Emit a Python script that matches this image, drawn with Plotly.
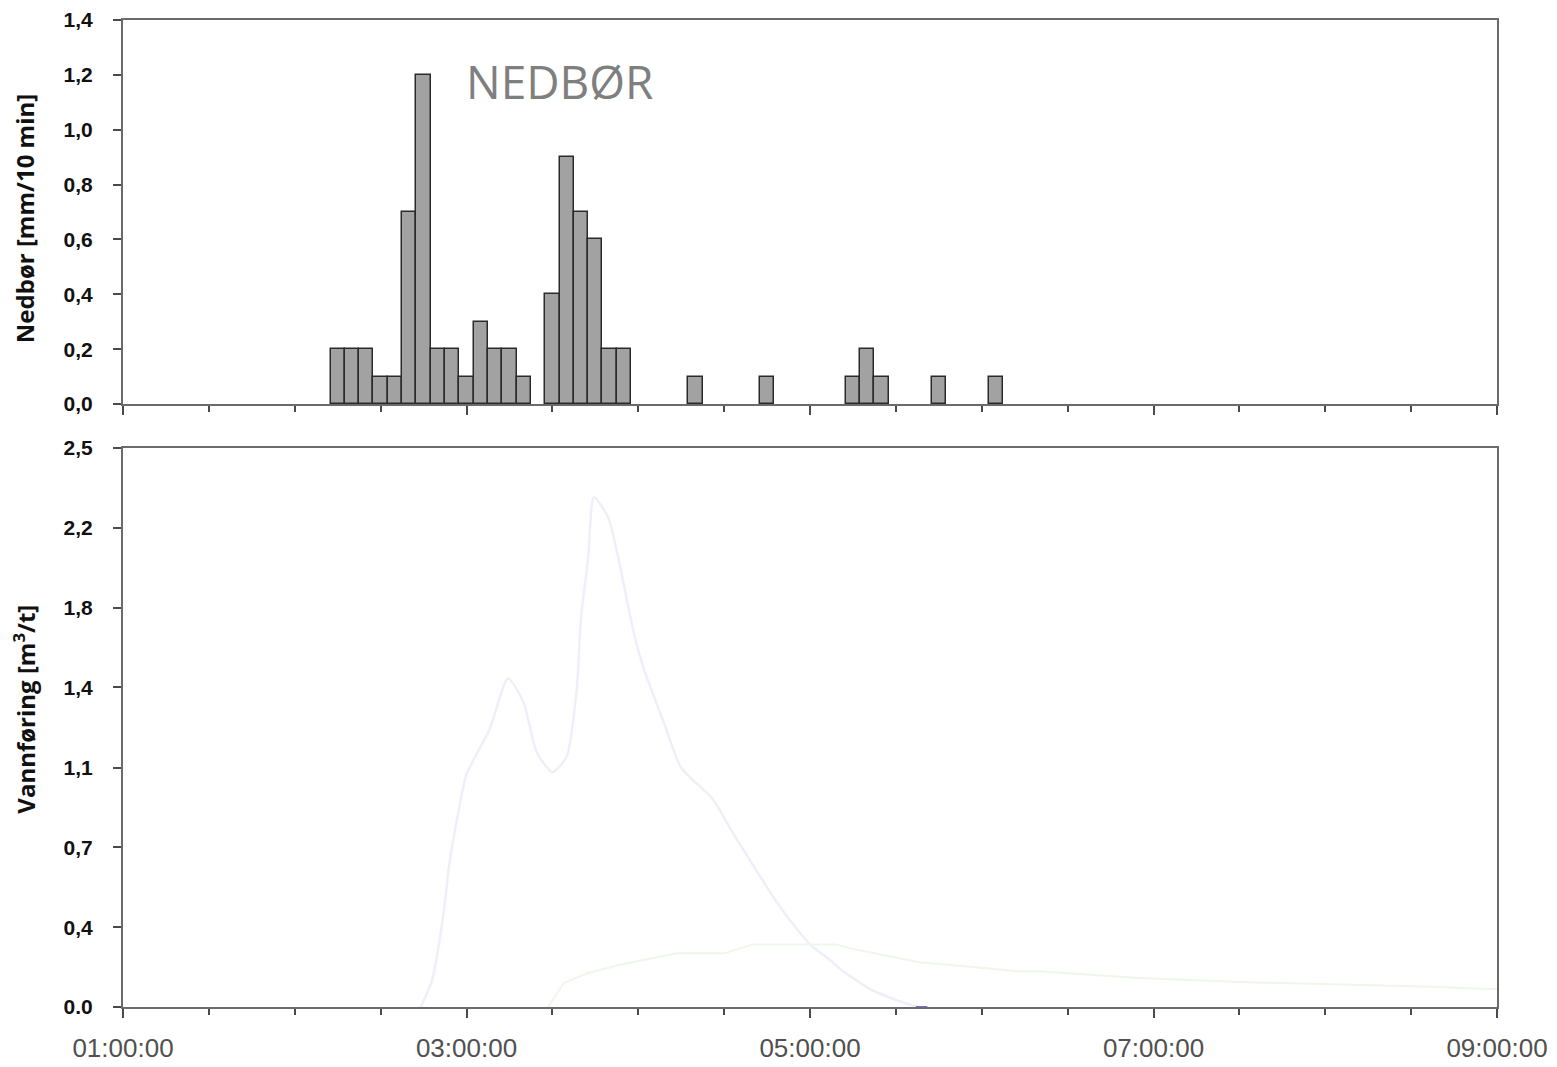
import plotly.graph_objects as go

DAY = "2000-01-01 "

# ---- Precipitation (5-minute bars) ----
rain_times = ["02:15", "02:20", "02:25", "02:30", "02:35", "02:40", "02:45",
              "02:50", "02:55", "03:00", "03:05", "03:10", "03:15", "03:20",
              "03:30", "03:35", "03:40", "03:45", "03:50", "03:55",
              "04:20", "04:45", "05:15", "05:20", "05:25", "05:45", "06:05"]
rain_vals = [0.2, 0.2, 0.2, 0.1, 0.1, 0.7, 1.2,
             0.2, 0.2, 0.1, 0.3, 0.2, 0.2, 0.1,
             0.4, 0.9, 0.7, 0.6, 0.2, 0.2,
             0.1, 0.1, 0.1, 0.2, 0.1, 0.1, 0.1]

# ---- Discharge, hydrograph 1 (faint blue) ----
q1_times = ["02:44:00", "02:48:00", "02:52:00", "02:54:00", "02:57:00", "03:00:00",
            "03:08:00", "03:14:30", "03:20:00", "03:24:30", "03:30:00", "03:35:00",
            "03:38:30", "03:40:00", "03:42:30", "03:44:30", "03:49:30", "03:52:30",
            "03:58:30", "04:02:00", "04:09:00", "04:15:00", "04:26:00", "04:33:00",
            "04:50:30", "05:00:00", "05:07:00", "05:10:30", "05:21:00", "05:32:30",
            "05:38:00"]
q1_vals = [0.0, 0.12, 0.42, 0.64, 0.86, 1.04,
           1.24, 1.47, 1.36, 1.14, 1.05, 1.12,
           1.42, 1.74, 2.01, 2.28, 2.19, 2.04,
           1.67, 1.51, 1.27, 1.07, 0.93, 0.78,
           0.43, 0.28, 0.21, 0.17, 0.08, 0.02,
           0.0]

# ---- Discharge, hydrograph 2 (faint green) ----
q2_times = ["03:28:30", "03:34:00", "03:42:00", "03:54:00", "04:13:30", "04:30:00",
            "04:40:00", "05:09:00", "05:15:00", "05:38:00", "05:56:00", "06:13:00",
            "06:20:00", "06:55:00", "07:35:00", "08:38:00", "08:56:30", "09:00:00"]
q2_vals = [0.0, 0.107, 0.15, 0.19, 0.24, 0.24,
           0.28, 0.28, 0.26, 0.20, 0.18, 0.16,
           0.16, 0.13, 0.11, 0.09, 0.08, 0.08]

# ---- small darker blue segment on baseline ----
q3_times = ["05:37:00", "05:41:00"]
q3_vals = [0.0, 0.0]

rain_ticks = [0.0, 0.2, 0.4, 0.6, 0.8, 1.0, 1.2, 1.4]
rain_ticktext = ["0,0", "0,2", "0,4", "0,6", "0,8", "1,0", "1,2", "1,4"]
q_ticks = [0.0, 0.357, 0.714, 1.071, 1.429, 1.786, 2.143, 2.5]
q_ticktext = ["0.0", "0,4", "0,7", "1,1", "1,4", "1,8", "2,2", "2,5"]


def ts(lst):
    out = []
    for s in lst:
        if s.count(":") == 1:
            s = s + ":00"
        out.append(DAY + s)
    return out


fig = go.Figure()
fig.add_trace(go.Bar(
    x=ts(rain_times), y=rain_vals, width=300000,
    marker=dict(color="#a2a2a2", line=dict(color="#2a2a2a", width=1.5)),
    xaxis="x", yaxis="y", hoverinfo="x+y"))
fig.add_trace(go.Scatter(
    x=ts(q1_times), y=q1_vals, mode="lines",
    line=dict(color="#efeffa", width=2.5, shape="spline", smoothing=0.6),
    xaxis="x2", yaxis="y2"))
fig.add_trace(go.Scatter(
    x=ts(q2_times), y=q2_vals, mode="lines",
    line=dict(color="#eef7ea", width=2),
    xaxis="x2", yaxis="y2"))
fig.add_trace(go.Scatter(
    x=ts(q3_times), y=q3_vals, mode="lines",
    line=dict(color="#7070d0", width=2),
    xaxis="x2", yaxis="y2"))

axis_line = "#6b6b6b"
tick_col = "#4a4a4a"

xcommon = dict(
    type="date",
    range=[DAY + "01:00:00", DAY + "09:00:00"],
    tick0=DAY + "01:00:00", dtick=7200000,
    tickformat="%H:%M:%S",
    ticks="outside", ticklen=9, tickwidth=1.5, tickcolor=tick_col,
    showline=True, linecolor=axis_line, linewidth=2, mirror=True,
    showgrid=False, zeroline=False, automargin=False,
    minor=dict(dtick=1800000, ticks="outside", ticklen=6, tickwidth=1.5,
               tickcolor=tick_col, showgrid=False),
)

ycommon = dict(
    ticks="outside", ticklen=8, tickwidth=1.5, tickcolor=tick_col,
    showline=True, linecolor=axis_line, linewidth=2, mirror=True,
    showgrid=False, zeroline=False, automargin=False,
    tickfont=dict(family="Liberation Sans", size=21, color="#111111", weight="bold"),
    ticklabelstandoff=16,
)

fig.update_layout(
    width=1557, height=1067,
    margin=dict(l=115, r=68, t=12, b=68),
    paper_bgcolor="white", plot_bgcolor="white",
    showlegend=False,
    bargap=0,
    xaxis=dict(**xcommon, anchor="y", showticklabels=False),
    xaxis2=dict(**xcommon, anchor="y2", matches="x",
                tickfont=dict(family="Liberation Sans", size=26, color="#505050"),
                ticklabelstandoff=8),
    yaxis=dict(**ycommon, domain=[0.6109, 1.0], range=[0, 1.4],
               tickvals=rain_ticks, ticktext=rain_ticktext),
    yaxis2=dict(**ycommon, domain=[0.0, 0.5664], range=[0, 2.5],
                tickvals=q_ticks, ticktext=q_ticktext),
    annotations=[
        dict(text="NEDBØR", xref="paper", yref="paper", x=0.3177, y=0.9382,
             xanchor="center", yanchor="middle", showarrow=False,
             font=dict(family="Open Sans", size=46, color="#7f7f7f")),
        dict(text="Nedbør [mm/10 min]", xref="paper", yref="paper",
             x=-0.0715, y=0.799, xanchor="center", yanchor="middle",
             textangle=-90, showarrow=False,
             font=dict(family="Open Sans", size=24, color="#111111", weight="bold")),
        dict(text="Vannføring [m<sup>3</sup>/t]", xref="paper", yref="paper",
             x=-0.0715, y=0.302, xanchor="center", yanchor="middle",
             textangle=-90, showarrow=False,
             font=dict(family="Open Sans", size=24, color="#111111", weight="bold")),
    ],
)

fig.write_html("out.html")
